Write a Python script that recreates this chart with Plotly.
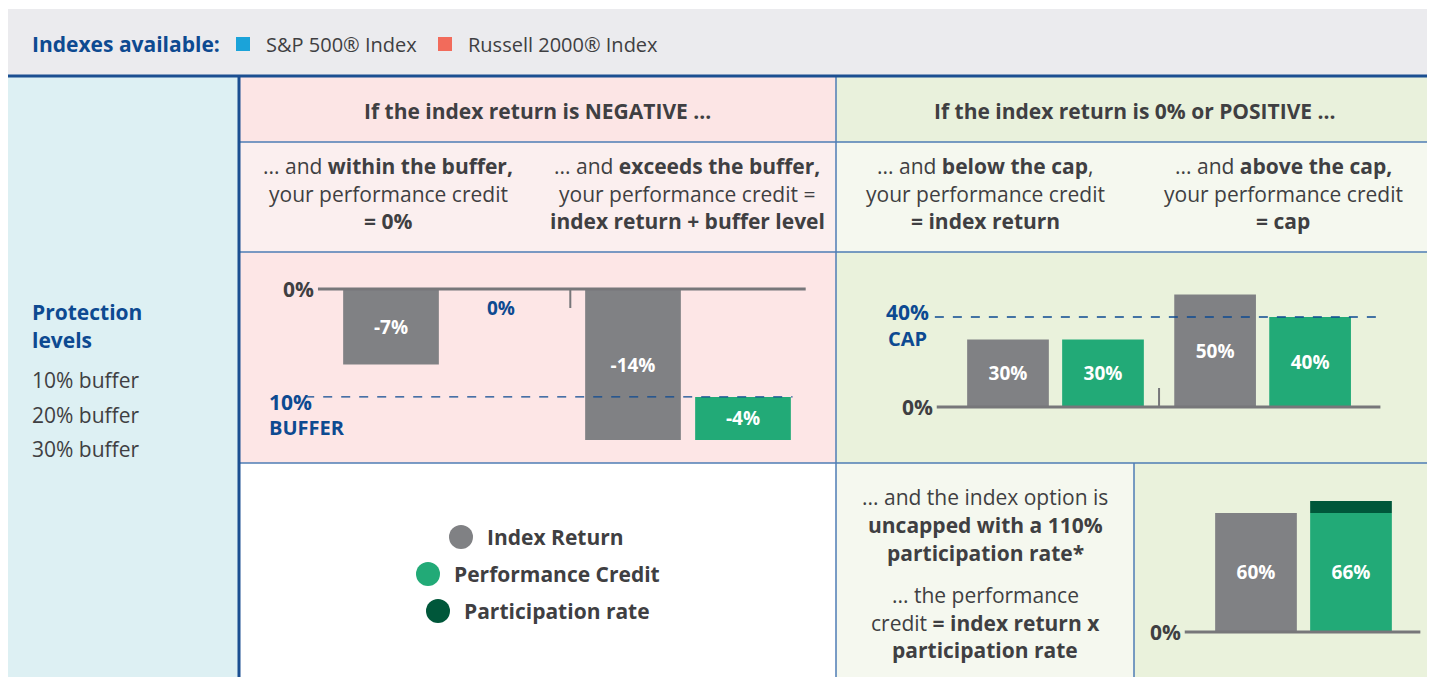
import plotly.graph_objects as go

# page is 1435x677; the browser's default 8px body margin offsets the figure
PAGE_W, PAGE_H = 1435, 677
OFF = 8
W, H = PAGE_W - OFF, PAGE_H - OFF

# ---------------- data ----------------
neg_index_returns = [-7, -14]
neg_credits = [0, -4]
buffer_level = 10
pos_index_returns = [30, 50]
pos_credits = [30, 40]
cap_level = 40
par_index_return = [60]
par_credit_base = [60]
par_rate_extra = [6]
par_credit_total = [66]
protection_levels = ["10% buffer", "20% buffer", "30% buffer"]
legend_items = ["Index Return", "Performance Credit", "Participation rate"]
index_names = ["S&P 500® Index", "Russell 2000® Index"]

# ---------------- styles ----------------
FONT = "Open Sans"
GRAY_TXT = "#3F3F42"
DBLUE = "#0D4A91"
BAR_GRAY = "#808184"
GREEN = "#22AA77"
DGREEN = "#00573A"
LINE_BLUE = "#4E7DB4"
AXIS_GRAY = "#77777A"


def px(x):
    return (x - OFF) / W


def py(y):
    return 1 - (y - OFF) / H


fig = go.Figure()


def rect(x0, y0, x1, y1, color):
    fig.add_shape(type="rect", xref="paper", yref="paper", x0=px(x0), x1=px(x1),
                  y0=py(y1), y1=py(y0), fillcolor=color, line=dict(width=0), layer="below")


def hline(x0, x1, y, color=LINE_BLUE, w=1.5):
    fig.add_shape(type="line", xref="paper", yref="paper", x0=px(x0), x1=px(x1),
                  y0=py(y), y1=py(y), line=dict(color=color, width=w), layer="below")


def vline(x, y0, y1, color=LINE_BLUE, w=1.5):
    fig.add_shape(type="line", xref="paper", yref="paper", x0=px(x), x1=px(x),
                  y0=py(y0), y1=py(y1), line=dict(color=color, width=w), layer="below")


def text(x, y, s, size=21, color=GRAY_TXT, anchor="center"):
    fig.add_annotation(xref="paper", yref="paper", x=px(x), y=py(y), text=s,
                       showarrow=False, xanchor=anchor, yanchor="middle",
                       font=dict(family=FONT, size=size, color=color))


# ---------------- backgrounds ----------------
rect(OFF, 9, PAGE_W, 76, "#EBEBEE")
rect(OFF, 76, 239, PAGE_H, "#DDF0F3")
rect(239, 76, 836, 142, "#FCE5E5")
rect(239, 142, 836, 252, "#FBEFEF")
rect(239, 252, 836, 463, "#FDE6E6")
rect(836, 76, PAGE_W, 142, "#E9F1DC")
rect(836, 142, PAGE_W, 252, "#F5F8EF")
rect(836, 252, PAGE_W, 463, "#EAF2DC")
rect(239, 463, 836, PAGE_H, "#FFFFFF")
rect(836, 463, 1134, PAGE_H, "#F5F8EF")
rect(1134, 463, PAGE_W, PAGE_H, "#EAF2DC")

# grid lines
hline(239, PAGE_W, 142)
hline(239, PAGE_W, 252)
hline(239, PAGE_W, 463)
vline(836, 76, PAGE_H)
vline(1134, 463, PAGE_H)
hline(OFF, PAGE_W, 76, color="#1B4F91", w=3)
vline(239, 76, PAGE_H, color="#1B4F91", w=3)

# ---------------- header ----------------
text(30, 44, "<b>Indexes available:</b>", size=21, color=DBLUE, anchor="left")
index_colors = ["#1BA3D9", "#F26B5B"]
idx_x = [236, 438]
for name, c, x0 in zip(index_names, index_colors, idx_x):
    rect(x0, 37, x0 + 14, 51, c)
    text(x0 + 28, 44, name, size=20, anchor="left")

# left panel
text(30, 312, "<b>Protection</b>", size=21, color=DBLUE, anchor="left")
text(30, 340, "<b>levels</b>", size=21, color=DBLUE, anchor="left")
for i, lv in enumerate(protection_levels):
    text(30, 380 + i * 34.5, lv, size=21, anchor="left")

# column headers
text(537, 111, "<b>If the index return is NEGATIVE ...</b>", size=21)
text(1135, 111, "<b>If the index return is 0% or POSITIVE ...</b>", size=21)

sub = [
    (388, ["... and <b>within the buffer,</b>", "your performance credit", "<b>= 0%</b>"]),
    (687, ["... and <b>exceeds the buffer,</b>", "your performance credit =", "<b>index return + buffer level</b>"]),
    (985, ["... and <b>below the cap</b>,", "your performance credit", "<b>= index return</b>"]),
    (1283, ["... and <b>above the cap,</b>", "your performance credit", "<b>= cap</b>"]),
]
for cx, lines in sub:
    for j, s in enumerate(lines):
        text(cx, 166 + j * 27.5, s, size=21)

# bottom-middle text
bm = ["... and the index option is", "<b>uncapped with a 110%</b>", "<b>participation rate*</b>"]
for j, s in enumerate(bm):
    text(985, 497 + j * 28, s, size=21)
bm2 = ["... the performance", "credit <b>= index return x</b>", "<b>participation rate</b>"]
for j, s in enumerate(bm2):
    text(985, 595 + j * 27.5, s, size=21)

# legend
leg_colors = [BAR_GRAY, GREEN, DGREEN]
leg_pos = [(461, 537), (428, 574), (438, 611)]
for lab, c, (cx, cy) in zip(legend_items, leg_colors, leg_pos):
    fig.add_shape(type="circle", xref="paper", yref="paper", x0=px(cx - 12), x1=px(cx + 12),
                  y0=py(cy + 12), y1=py(cy - 12), fillcolor=c, line=dict(width=0))
    text(cx + 24, cy, f"<b>{lab}</b>", size=21, anchor="left")


# ---------------- chart axes ----------------
def xdom(c0, unit, lo, hi):
    return [px(c0 + lo * unit), px(c0 + hi * unit)]


def ydom(zero, scale, lo, hi):
    return [py(zero - lo * scale), py(zero - hi * scale)]


ax_common = dict(showgrid=False, zeroline=False, showticklabels=False, showline=False, fixedrange=True)

# chart 1 (negative)
X1 = dict(c0=391, unit=110, lo=-0.8, hi=3.9)
Y1 = dict(zero=289, scale=10.79, lo=-15, hi=1.5)
# chart 2 (positive)
X2 = dict(c0=1008, unit=95, lo=-0.8, hi=4.0)
Y2 = dict(zero=407, scale=2.25, lo=-5, hi=60)
# chart 3 (participation)
X3 = dict(c0=1256, unit=95, lo=-0.8, hi=1.8)
Y3 = dict(zero=632, scale=1.985, lo=-5, hi=75)

fig.update_layout(
    xaxis=dict(domain=xdom(**X1), range=[X1["lo"], X1["hi"]], **ax_common),
    yaxis=dict(domain=ydom(**Y1), range=[Y1["lo"], Y1["hi"]], **ax_common),
    xaxis2=dict(domain=xdom(**X2), range=[X2["lo"], X2["hi"]], anchor="y2", **ax_common),
    yaxis2=dict(domain=ydom(**Y2), range=[Y2["lo"], Y2["hi"]], anchor="x2", **ax_common),
    xaxis3=dict(domain=xdom(**X3), range=[X3["lo"], X3["hi"]], anchor="y3", **ax_common),
    yaxis3=dict(domain=ydom(**Y3), range=[Y3["lo"], Y3["hi"]], anchor="x3", **ax_common),
)

lbl_font = dict(family=FONT, size=19, color="white")

# chart 1 bars
pos1_idx = [0, 2.2]
pos1_cred = [1, 3.2]
fig.add_trace(go.Bar(x=pos1_idx, y=neg_index_returns, width=0.87, marker=dict(color=BAR_GRAY, line=dict(width=0)),
                     text=[f"<b>{v}%</b>" for v in neg_index_returns], textposition="inside",
                     insidetextanchor="middle", textfont=lbl_font, xaxis="x", yaxis="y", showlegend=False))
cx = [p for p, c in zip(pos1_cred, neg_credits) if c < 0]
cy = [c for c in neg_credits if c < 0]
fig.add_trace(go.Bar(x=cx, y=cy, base=[-buffer_level] * len(cy), width=0.87,
                     marker=dict(color=GREEN, line=dict(width=0)),
                     text=[f"<b>{v}%</b>" for v in cy], textposition="inside",
                     insidetextanchor="middle", textfont=lbl_font, xaxis="x", yaxis="y", showlegend=False))
for p, c in zip(pos1_cred, neg_credits):
    if c == 0:
        fig.add_annotation(xref="x", yref="y", x=p, y=-1.8, text=f"<b>{c}%</b>", showarrow=False,
                           font=dict(family=FONT, size=19, color=DBLUE))

# chart 2 bars
pos2_idx = [0, 2.18]
pos2_cred = [1, 3.18]
fig.add_trace(go.Bar(x=pos2_idx, y=pos_index_returns, width=0.86, marker=dict(color=BAR_GRAY, line=dict(width=0)),
                     text=[f"<b>{v}%</b>" for v in pos_index_returns], textposition="inside",
                     insidetextanchor="middle", textfont=lbl_font, xaxis="x2", yaxis="y2", showlegend=False))
fig.add_trace(go.Bar(x=pos2_cred, y=pos_credits, width=0.86, marker=dict(color=GREEN, line=dict(width=0)),
                     text=[f"<b>{v}%</b>" for v in pos_credits], textposition="inside",
                     insidetextanchor="middle", textfont=lbl_font, xaxis="x2", yaxis="y2", showlegend=False))

# chart 3 bars
fig.add_trace(go.Bar(x=[0], y=par_index_return, width=0.86, marker=dict(color=BAR_GRAY, line=dict(width=0)),
                     text=[f"<b>{v}%</b>" for v in par_index_return], textposition="inside",
                     insidetextanchor="middle", textfont=lbl_font, xaxis="x3", yaxis="y3", showlegend=False))
fig.add_trace(go.Bar(x=[1], y=par_credit_base, width=0.86, marker=dict(color=GREEN, line=dict(width=0)),
                     text=[f"<b>{v}%</b>" for v in par_credit_total], textposition="inside",
                     insidetextanchor="middle", textfont=lbl_font, xaxis="x3", yaxis="y3", showlegend=False))
fig.add_trace(go.Bar(x=[1], y=par_rate_extra, base=par_credit_base, width=0.86,
                     marker=dict(color=DGREEN, line=dict(width=0)),
                     xaxis="x3", yaxis="y3", showlegend=False, hoverinfo="skip"))
fig.update_layout(barmode="overlay")


def aline(xr, yr, x0, x1, y0, y1, color=AXIS_GRAY, w=3, dash="solid"):
    fig.add_shape(type="line", xref=xr, yref=yr, x0=x0, x1=x1, y0=y0, y1=y1,
                  line=dict(color=color, width=w, dash=dash), layer="above")


# zero lines, ticks, dashed reference lines
aline("x", "y", -0.664, 3.77, 0, 0)
aline("x", "y", 1.63, 1.63, 0, -1.76, w=2)
aline("x", "y", -0.78, 3.65, -buffer_level, -buffer_level, color=DBLUE, w=1.3, dash="dash")
aline("x2", "y2", -0.75, 3.92, 0, 0)
aline("x2", "y2", 1.59, 1.59, 0, 8.4, w=2)
aline("x2", "y2", -0.77, 3.95, cap_level, cap_level, color=DBLUE, w=1.3, dash="dash")
aline("x3", "y3", -0.75, 1.73, 0, 0)

# axis labels
for xr, yr, x0 in [("x", "y", -0.68), ("x2", "y2", -0.77), ("x3", "y3", -0.77)]:
    fig.add_annotation(xref=xr, yref=yr, x=x0, y=0, text="<b>0%</b>", showarrow=False, xanchor="right",
                       font=dict(family=FONT, size=21, color=GRAY_TXT))

text(267, 402, f"<b>{buffer_level}%</b>", size=21, color=DBLUE, anchor="left")
text(267, 427, "<b>BUFFER</b>", size=20, color=DBLUE, anchor="left")
text(931, 312, f"<b>{cap_level}%</b>", size=21, color=DBLUE, anchor="right")
text(886, 338, "<b>CAP</b>", size=20, color=DBLUE, anchor="left")

fig.update_layout(
    width=W, height=H, margin=dict(l=0, r=0, t=0, b=0),
    paper_bgcolor="white", plot_bgcolor="rgba(0,0,0,0)",
    showlegend=False, font=dict(family=FONT),
)

fig.write_html("out.html")
